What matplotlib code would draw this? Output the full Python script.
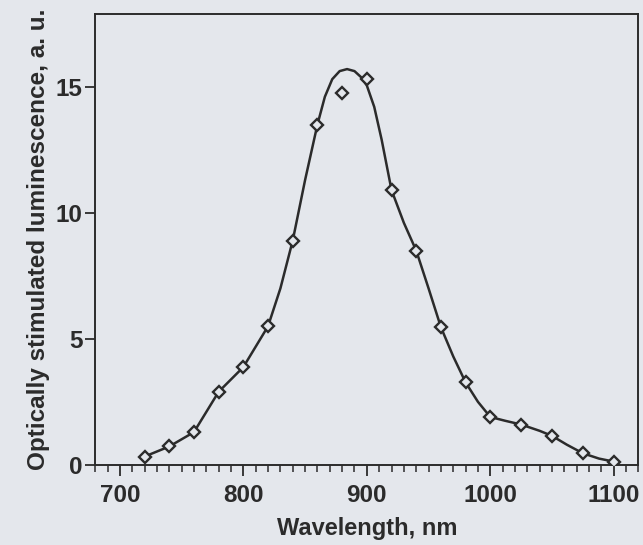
import numpy as np
import matplotlib
matplotlib.use('Agg')
import matplotlib.pyplot as plt
from matplotlib.ticker import MultipleLocator

# measured points (open diamonds)
wl_pts = [720, 740, 760, 780, 800, 820, 840, 860, 880, 900, 920, 940, 960,
          980, 1000, 1025, 1050, 1075, 1100]
osl_pts = [0.33, 0.73, 1.3, 2.9, 3.88, 5.5, 8.9, 13.5, 14.75, 15.3, 10.9, 8.5,
           5.46, 3.27, 1.9, 1.6, 1.15, 0.46, 0.13]

# smooth fitted curve
wl_fit = [720, 740, 760, 780, 800, 820, 830, 840, 850, 860, 866, 872, 878,
          884, 890, 896, 900, 906, 912, 920, 930, 940, 950, 960, 970, 980,
          990, 1000, 1012, 1025, 1040, 1050, 1062, 1075, 1088, 1100]
osl_fit = [0.33, 0.73, 1.3, 2.9, 3.88, 5.5, 7.0, 8.9, 11.3, 13.5, 14.6, 15.3,
           15.62, 15.7, 15.62, 15.35, 15.05, 14.2, 12.9, 10.9, 9.6, 8.5, 7.0,
           5.46, 4.3, 3.27, 2.5, 1.9, 1.75, 1.6, 1.35, 1.15, 0.8, 0.46, 0.25,
           0.13]

bg = '#e4e7ec'
ink = '#2b2b2b'

plt.rcParams['font.family'] = ['Liberation Sans', 'DejaVu Sans']
plt.rcParams['font.weight'] = 'bold'

fig = plt.figure(figsize=(6.43, 5.45), dpi=100, facecolor=bg)
ax = fig.add_axes([0.148, 0.147, 0.845, 0.828])
ax.set_facecolor(bg)

ax.plot(wl_fit, osl_fit, color=ink, lw=1.8, zorder=2)
ax.plot(wl_pts, osl_pts, ls='none', marker='D', ms=6.5, mfc=bg, mec=ink,
        mew=1.7, zorder=3)

ax.set_xlim(680, 1120)
ax.set_ylim(0, 17.9)
ax.xaxis.set_major_locator(MultipleLocator(100))
ax.xaxis.set_minor_locator(MultipleLocator(10))
ax.yaxis.set_major_locator(MultipleLocator(5))

ax.tick_params(axis='x', which='major', direction='out', length=8, width=1.3,
               colors=ink, labelsize=17.5, pad=6)
ax.tick_params(axis='x', which='minor', direction='out', length=5, width=1.1,
               colors=ink)
ax.tick_params(axis='y', which='major', direction='out', length=7, width=1.3,
               colors=ink, labelsize=17.5, pad=2)
for s in ax.spines.values():
    s.set_color(ink)
    s.set_linewidth(1.4)

ax.set_xlabel('Wavelength, nm', fontsize=17, fontweight='bold', color=ink,
              labelpad=7)
ax.set_ylabel('Optically stimulated luminescence, a. u.', fontsize=17.5,
              fontweight='bold', color=ink, labelpad=4)

plt.savefig('out.png', dpi=100, facecolor=bg)
